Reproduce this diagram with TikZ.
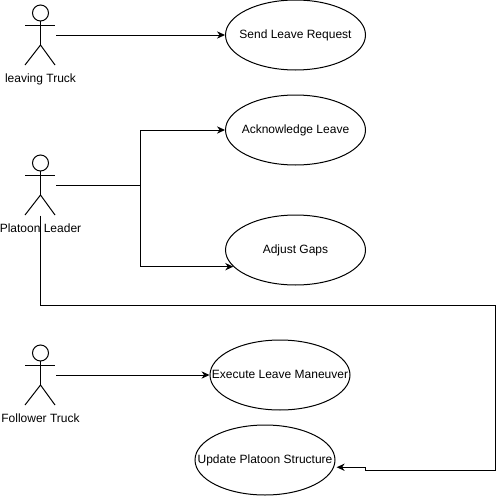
\documentclass[tikz,border=0pt]{standalone}
\usepackage{fontspec}
\setmainfont{Liberation Sans}
\usetikzlibrary{arrows.meta}
\usetikzlibrary{shapes}
\usetikzlibrary{positioning}
\tikzstyle{usecase}=[shape=ellipse,draw,inner xsep=-30pt,inner ysep=0pt,minimum width=105pt,minimum height=52.5pt,text height=6.5pt,text depth=1.8pt,font=\fontsize{9}{11}\selectfont]
\tikzstyle{actorbox}=[shape=rectangle,inner sep=0pt,minimum width=22.5pt,minimum height=45pt]
\tikzstyle{actorname}=[inner sep=0pt,text height=6.5pt,text depth=1.8pt,font=\fontsize{9}{11}\selectfont]
\tikzstyle{tran}=[draw,->,>={Stealth[length=6pt,width=5.5pt]}]

\begin{document}
\begin{tikzpicture}[x = 0.75pt, y = -0.75pt, line width = 0.75pt]
\useasboundingbox (0,0) rectangle (504,496);

% actors
\foreach \nm/\cy/\txt in {leaving/35/leaving Truck,leader/185/Platoon Leader,follower/375/Follower Truck}{
\node[actorbox] (\nm) at (40.5,\cy) {};
\node[actorname] (\nm name) at (40.5,\cy+44.7) {\txt};
\draw (40.5,\cy-22) circle (6pt);
\draw (40.5,\cy-14) -- (40.5,\cy+10);
\draw (25,\cy-10) -- (55,\cy-10);
\draw (25,\cy+30) -- (40.5,\cy+10) -- (55,\cy+30);
}

\node[usecase] (send) at (295.5,35) {Send Leave Request};
\node[usecase] (ack) at (295.5,130) {Acknowledge Leave};
\node[usecase] (adjust) at (295.5,250) {Adjust Gaps};
\node[usecase] (execute) at (280,375) {Execute Leave Maneuver};
\node[usecase] (update) at (265,460) {Update Platoon Structure};

\coordinate (split) at (140,185);
\coordinate (dum1) at (495,305);
\coordinate (dum2) at (495,470);
\coordinate (dum3) at (365.5,470);

\draw[tran] (leaving.east) -- (send);
\draw[tran] (execute.west-|follower.east) -- (execute);
\draw (leader.east) -- (split);
\draw[tran] (split) |- (ack);
\draw[tran] (split) |- (adjust.195);
\draw[tran, shorten >=2pt] (leader.south) |- (dum1) -- (dum2) -- (dum3) -- (dum3|-update.-6) -- (update.-6);
\end{tikzpicture}
\end{document}
